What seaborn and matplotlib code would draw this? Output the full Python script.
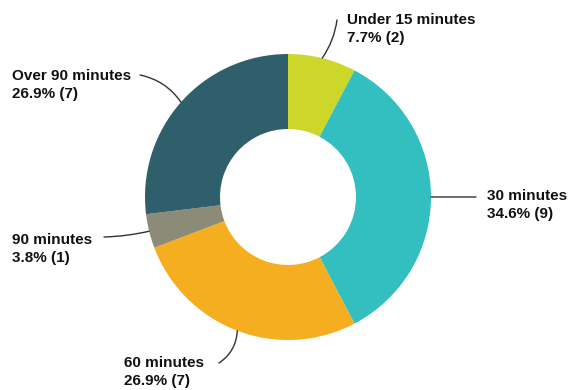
import numpy as np
import matplotlib
matplotlib.use("Agg")
import matplotlib.pyplot as plt
import seaborn as sns

sns.set_theme(style="white")
plt.rcParams['font.family'] = ['Liberation Sans', 'DejaVu Sans']

categories = ["Under 15 minutes", "30 minutes", "60 minutes", "90 minutes", "Over 90 minutes"]
counts = [2, 9, 7, 1, 7]
colors = ["#CDD72A", "#33BEC0", "#F5AE1F", "#8B8B78", "#2F5F6B"]

# label layout (pixel coords, y from top): text left x, first-line y, leader end x, leader rad
label_pos = [(347, 20, 337, 20, -0.12),
             (487, 196, 476, 197, 0.0),
             (124, 363, 219, 363, 0.25),
             (12, 240, 104, 237, 0.05),
             (12, 76, 140, 75, -0.2)]

W, H = 571, 390
fig = plt.figure(figsize=(W / 100, H / 100), dpi=100)
ax = fig.add_axes([0, 0, 1, 1])
ax.set_xlim(0, W)
ax.set_ylim(0, H)
ax.axis("off")

cx, cy, R = 288, H - 197, 143
wedges, _ = ax.pie(counts, colors=colors, startangle=90, counterclock=False,
                   center=(cx, cy), radius=R,
                   wedgeprops=dict(width=R - 68, linewidth=0))
ax.set_xlim(0, W)
ax.set_ylim(0, H)
ax.set_aspect("equal")

total = sum(counts)
for w, cat, n, (tx, ty, ex, ey, rad) in zip(wedges, categories, counts, label_pos):
    ang = np.deg2rad((w.theta1 + w.theta2) / 2)
    anchor = (cx + R * np.cos(ang), cy + R * np.sin(ang))
    ax.annotate("", xy=anchor, xytext=(ex, H - ey),
                arrowprops=dict(arrowstyle="-", color="#333333", lw=1.0,
                                shrinkA=0, shrinkB=0,
                                connectionstyle=f"arc3,rad={rad}"))
    pct = n / total * 100
    ax.text(tx, H - ty, cat, ha="left", va="center", fontsize=11,
            fontweight="bold", color="#111111")
    ax.text(tx, H - ty - 18, f"{pct:.1f}% ({n})", ha="left", va="center",
            fontsize=11, fontweight="bold", color="#111111")

fig.savefig("out.png", dpi=100)
